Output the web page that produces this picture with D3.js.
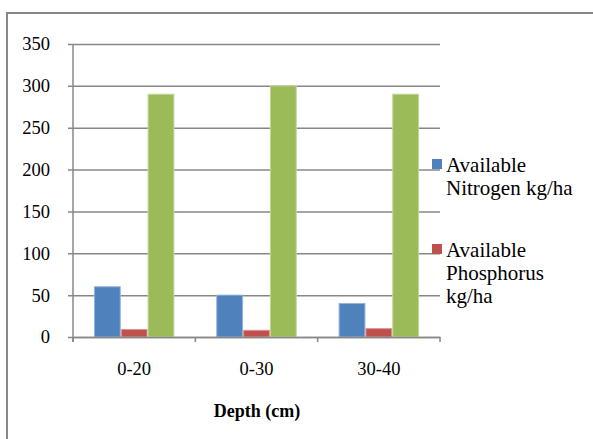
<!DOCTYPE html>
<html>
<head>
<meta charset="utf-8">
<script src="https://cdn.jsdelivr.net/npm/d3@7"></script>
<style>
  body { margin: 0; background: #fff; }
  svg text { font-family: "Liberation Serif", "Times New Roman", serif !important; fill: #000; }
</style>
</head>
<body>
<svg id="chart" width="593" height="439"></svg>
<script>
// data
const depths = ["0-20", "0-30", "30-40"];
const nitrogen = [60, 50, 40];
const phosphorus = [9, 8, 10];
const potassium = [290, 300, 290];
const yTicks = [0, 50, 100, 150, 200, 250, 300, 350];
const seriesNames = ["Available Nitrogen kg/ha", "Available Phosphorus kg/ha", "Available Potassium kg/ha"];
const colors = ["#4F81BD", "#C0504D", "#9BBB59"];
const edges = ["#95b3d7", "#d99694", "#c3d69b"];

const svg = d3.select("#chart");

// outer chart frame (runs off the right and bottom edges)
svg.append("rect")
    .attr("x", 7).attr("y", 13)
    .attr("width", 640).attr("height", 480)
    .attr("fill", "none")
    .attr("stroke", "#878787")
    .attr("stroke-width", 2);

const plotLeft = 73, plotRight = 440, plotTop = 44, plotBottom = 337;

const x0 = d3.scaleBand().domain(depths).range([plotLeft, plotRight]);
const x1 = d3.scaleBand()
    .domain([0, 1, 2])
    .range([0, x0.bandwidth()])
    .paddingOuter(0.78)
    .paddingInner(0);
const y = d3.scaleLinear().domain([0, 350]).range([plotBottom, plotTop]);

// gridlines + y axis
const yAxis = d3.axisLeft(y).tickValues(yTicks).tickSize(-(plotRight - plotLeft)).tickPadding(23);
const gy = svg.append("g").attr("transform", `translate(${plotLeft},0)`).call(yAxis);
gy.select(".domain").remove();
gy.selectAll(".tick line").attr("stroke", "#878787").attr("stroke-width", 1.5).attr("x1", -5);
gy.selectAll(".tick text")
    .style("font-size", "18.5px")
    .attr("fill", "#000");

// bars
const table = depths.map((d, i) => ({ depth: d, values: [nitrogen[i], phosphorus[i], potassium[i]] }));
const groups = svg.append("g").selectAll("g")
    .data(table)
    .join("g")
    .attr("transform", d => `translate(${x0(d.depth)},0)`);
groups.selectAll("rect")
    .data(d => d.values.map((v, k) => ({ k, v })))
    .join("rect")
    .attr("x", d => x1(d.k) + 0.5)
    .attr("width", x1.bandwidth() - 1)
    .attr("y", d => y(d.v))
    .attr("height", d => y(0) - y(d.v))
    .attr("fill", d => colors[d.k])
    .attr("stroke", d => edges[d.k])
    .attr("stroke-width", 1);

// vertical axis line
svg.append("line")
    .attr("x1", plotLeft).attr("x2", plotLeft)
    .attr("y1", plotTop).attr("y2", plotBottom + 5)
    .attr("stroke", "#878787").attr("stroke-width", 1.5);

// x axis
const xAxis = d3.axisBottom(x0).tickSize(0).tickPadding(25);
const gx = svg.append("g").attr("transform", `translate(0,${plotBottom})`).call(xAxis);
gx.select(".domain").attr("stroke", "#878787").attr("stroke-width", 1.5);
gx.selectAll(".tick text")
    .style("font-size", "18.5px")
    .attr("fill", "#000");
// category boundary ticks
const bounds = depths.map(d => x0(d)).concat([x0(depths[depths.length - 1]) + x0.bandwidth()]);
svg.append("g").selectAll("line")
    .data(bounds)
    .join("line")
    .attr("x1", d => d).attr("x2", d => d)
    .attr("y1", plotBottom).attr("y2", plotBottom + 5)
    .attr("stroke", "#878787").attr("stroke-width", 1.5);

// x axis title
svg.append("text")
    .attr("x", 257).attr("y", 417)
    .attr("text-anchor", "middle")
    .style("font-size", "18px")
    .style("font-weight", "bold")
    .text("Depth (cm)");

// legend (third entry falls outside the frame in the original)
const legendLines = [["Available", "Nitrogen kg/ha"], ["Available", "Phosphorus", "kg/ha"]];
const legendTop = [159, 244];
legendLines.forEach((lines, k) => {
    svg.append("rect")
        .attr("x", 432).attr("y", legendTop[k])
        .attr("width", 10).attr("height", 10)
        .attr("fill", colors[k]);
    svg.append("text")
        .attr("x", 446).attr("y", legendTop[k] + 13)
        .style("font-size", "21px")
        .selectAll("tspan")
        .data(lines)
        .join("tspan")
        .attr("x", 446)
        .attr("dy", (d, i) => i === 0 ? 0 : 23)
        .text(d => d);
});
</script>
</body>
</html>
